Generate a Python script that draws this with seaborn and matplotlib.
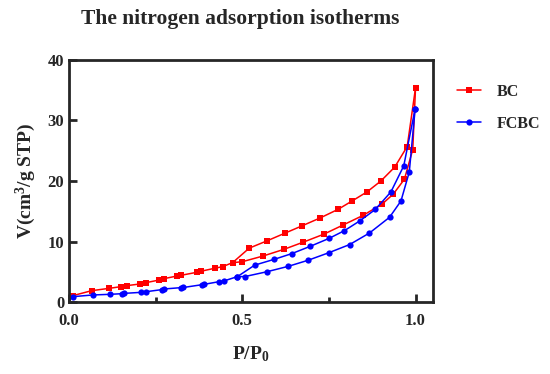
import numpy as np
import pandas as pd
import matplotlib
matplotlib.use('Agg')
import matplotlib.pyplot as plt
import seaborn as sns

# BC isotherm
bc_ads_p = [0.011, 0.065, 0.116, 0.149, 0.166, 0.205, 0.222, 0.26, 0.274, 0.312,
            0.322, 0.368, 0.382, 0.42, 0.443, 0.472, 0.50, 0.56, 0.62, 0.675,
            0.735, 0.79, 0.848, 0.904, 0.936, 0.968, 0.992, 1.0]
bc_ads_v = [1.05, 1.87, 2.26, 2.53, 2.70, 2.98, 3.2, 3.63, 3.86, 4.3,
            4.4, 4.9, 5.1, 5.57, 5.84, 6.5, 6.66, 7.6, 8.7, 9.87,
            11.2, 12.7, 14.3, 16.2, 17.85, 20.3, 25.2, 35.4]
bc_des_p = [1.0, 0.976, 0.94, 0.90, 0.86, 0.817, 0.776, 0.725, 0.673, 0.622,
            0.571, 0.52, 0.472]
bc_des_v = [35.4, 25.7, 22.3, 20.0, 18.2, 16.7, 15.3, 13.9, 12.6, 11.35,
            10.1, 8.9, 6.5]

# FCBC isotherm
fcbc_ads_p = [0.011, 0.068, 0.118, 0.152, 0.16, 0.209, 0.222, 0.267, 0.274, 0.322,
              0.33, 0.385, 0.39, 0.433, 0.448, 0.486, 0.507, 0.571, 0.633, 0.69,
              0.75, 0.81, 0.867, 0.925, 0.958, 0.982, 0.999]
fcbc_ads_v = [0.88, 1.16, 1.27, 1.37, 1.43, 1.6, 1.7, 2.04, 2.15, 2.37,
              2.4, 2.87, 2.92, 3.36, 3.5, 4.2, 4.2, 5.0, 5.9, 6.9,
              8.15, 9.5, 11.4, 14.0, 16.7, 21.5, 31.95]
fcbc_des_p = [0.999, 0.966, 0.929, 0.884, 0.839, 0.795, 0.75, 0.696, 0.643, 0.592,
              0.536, 0.486]
fcbc_des_v = [31.95, 22.5, 18.2, 15.3, 13.4, 11.8, 10.5, 9.2, 8.0, 7.05,
              6.1, 4.2]

x_ticks = [0.0, 0.5, 1.0]
x_minor = [0.25, 0.75]
x_ticklabels = ['0.0', '0.5', '1.0']
y_ticks = [0, 10, 20, 30, 40]
y_ticklabels = ['0', '10', '20', '30', '40']


def branch(sample, name, p, v):
    return pd.DataFrame({'sample': sample, 'branch': name, 'p': p, 'v': v})


df = pd.concat([
    branch('BC', 'ads', bc_ads_p, bc_ads_v),
    branch('BC', 'des', bc_des_p, bc_des_v),
    branch('FCBC', 'ads', fcbc_ads_p, fcbc_ads_v),
    branch('FCBC', 'des', fcbc_des_p, fcbc_des_v),
], ignore_index=True)

sns.set_style('ticks')
plt.rcParams['font.family'] = ['Liberation Serif', 'DejaVu Serif']
plt.rcParams['font.weight'] = 'bold'
plt.rcParams['mathtext.fontset'] = 'custom'
plt.rcParams['mathtext.rm'] = 'Liberation Serif:bold'
plt.rcParams['mathtext.bf'] = 'Liberation Serif:bold'
plt.rcParams['mathtext.it'] = 'Liberation Serif:bold'
plt.rcParams['axes.linewidth'] = 2.0

fig = plt.figure(figsize=(5.5, 3.74), dpi=100)
ax = fig.add_axes([0.1255, 0.1925, 0.6615, 0.6471])

sns.lineplot(
    data=df, x='p', y='v', hue='sample', style='sample', units='branch',
    estimator=None, sort=False, ax=ax,
    palette={'BC': '#ff0000', 'FCBC': '#0000ff'},
    markers={'BC': 's', 'FCBC': 'o'}, dashes=False,
    markersize=4.5, markeredgewidth=0, linewidth=1.1,
)

ax.set_xlim(0, 1.05)
ax.set_ylim(0, 40)
ax.set_xticks(x_ticks)
ax.set_xticks(x_minor, minor=True)
ax.set_xticklabels(x_ticklabels, fontweight='bold')
ax.set_yticks(y_ticks)
ax.set_yticklabels(y_ticklabels, fontweight='bold')
ax.tick_params(which='major', direction='in', length=6, width=2, labelsize=12)
ax.tick_params(which='minor', direction='in', length=3.5, width=2)
ax.tick_params(axis='x', which='major', pad=8)

ax.set_xlabel(r'P/P$_\mathbf{0}$', fontsize=14, fontweight='bold', labelpad=11)
ax.set_ylabel(r'V(cm$^\mathbf{3}$/g STP)', fontsize=14, fontweight='bold', labelpad=7)

handles, labels = ax.get_legend_handles_labels()
keep = [(h, l) for h, l in zip(handles, labels) if l in ('BC', 'FCBC')]
ax.legend([h for h, _ in keep], [l for _, l in keep],
          loc='upper left', bbox_to_anchor=(0.805, 0.814),
          bbox_transform=fig.transFigure, frameon=False,
          handlelength=1.5, handletextpad=1.0, labelspacing=1.0,
          prop={'weight': 'bold', 'size': 11.5})

fig.text(0.437, 0.95, 'The nitrogen adsorption isotherms', ha='center', va='center',
         fontsize=15.5, fontweight='bold')

fig.savefig('out.png', dpi=100)
